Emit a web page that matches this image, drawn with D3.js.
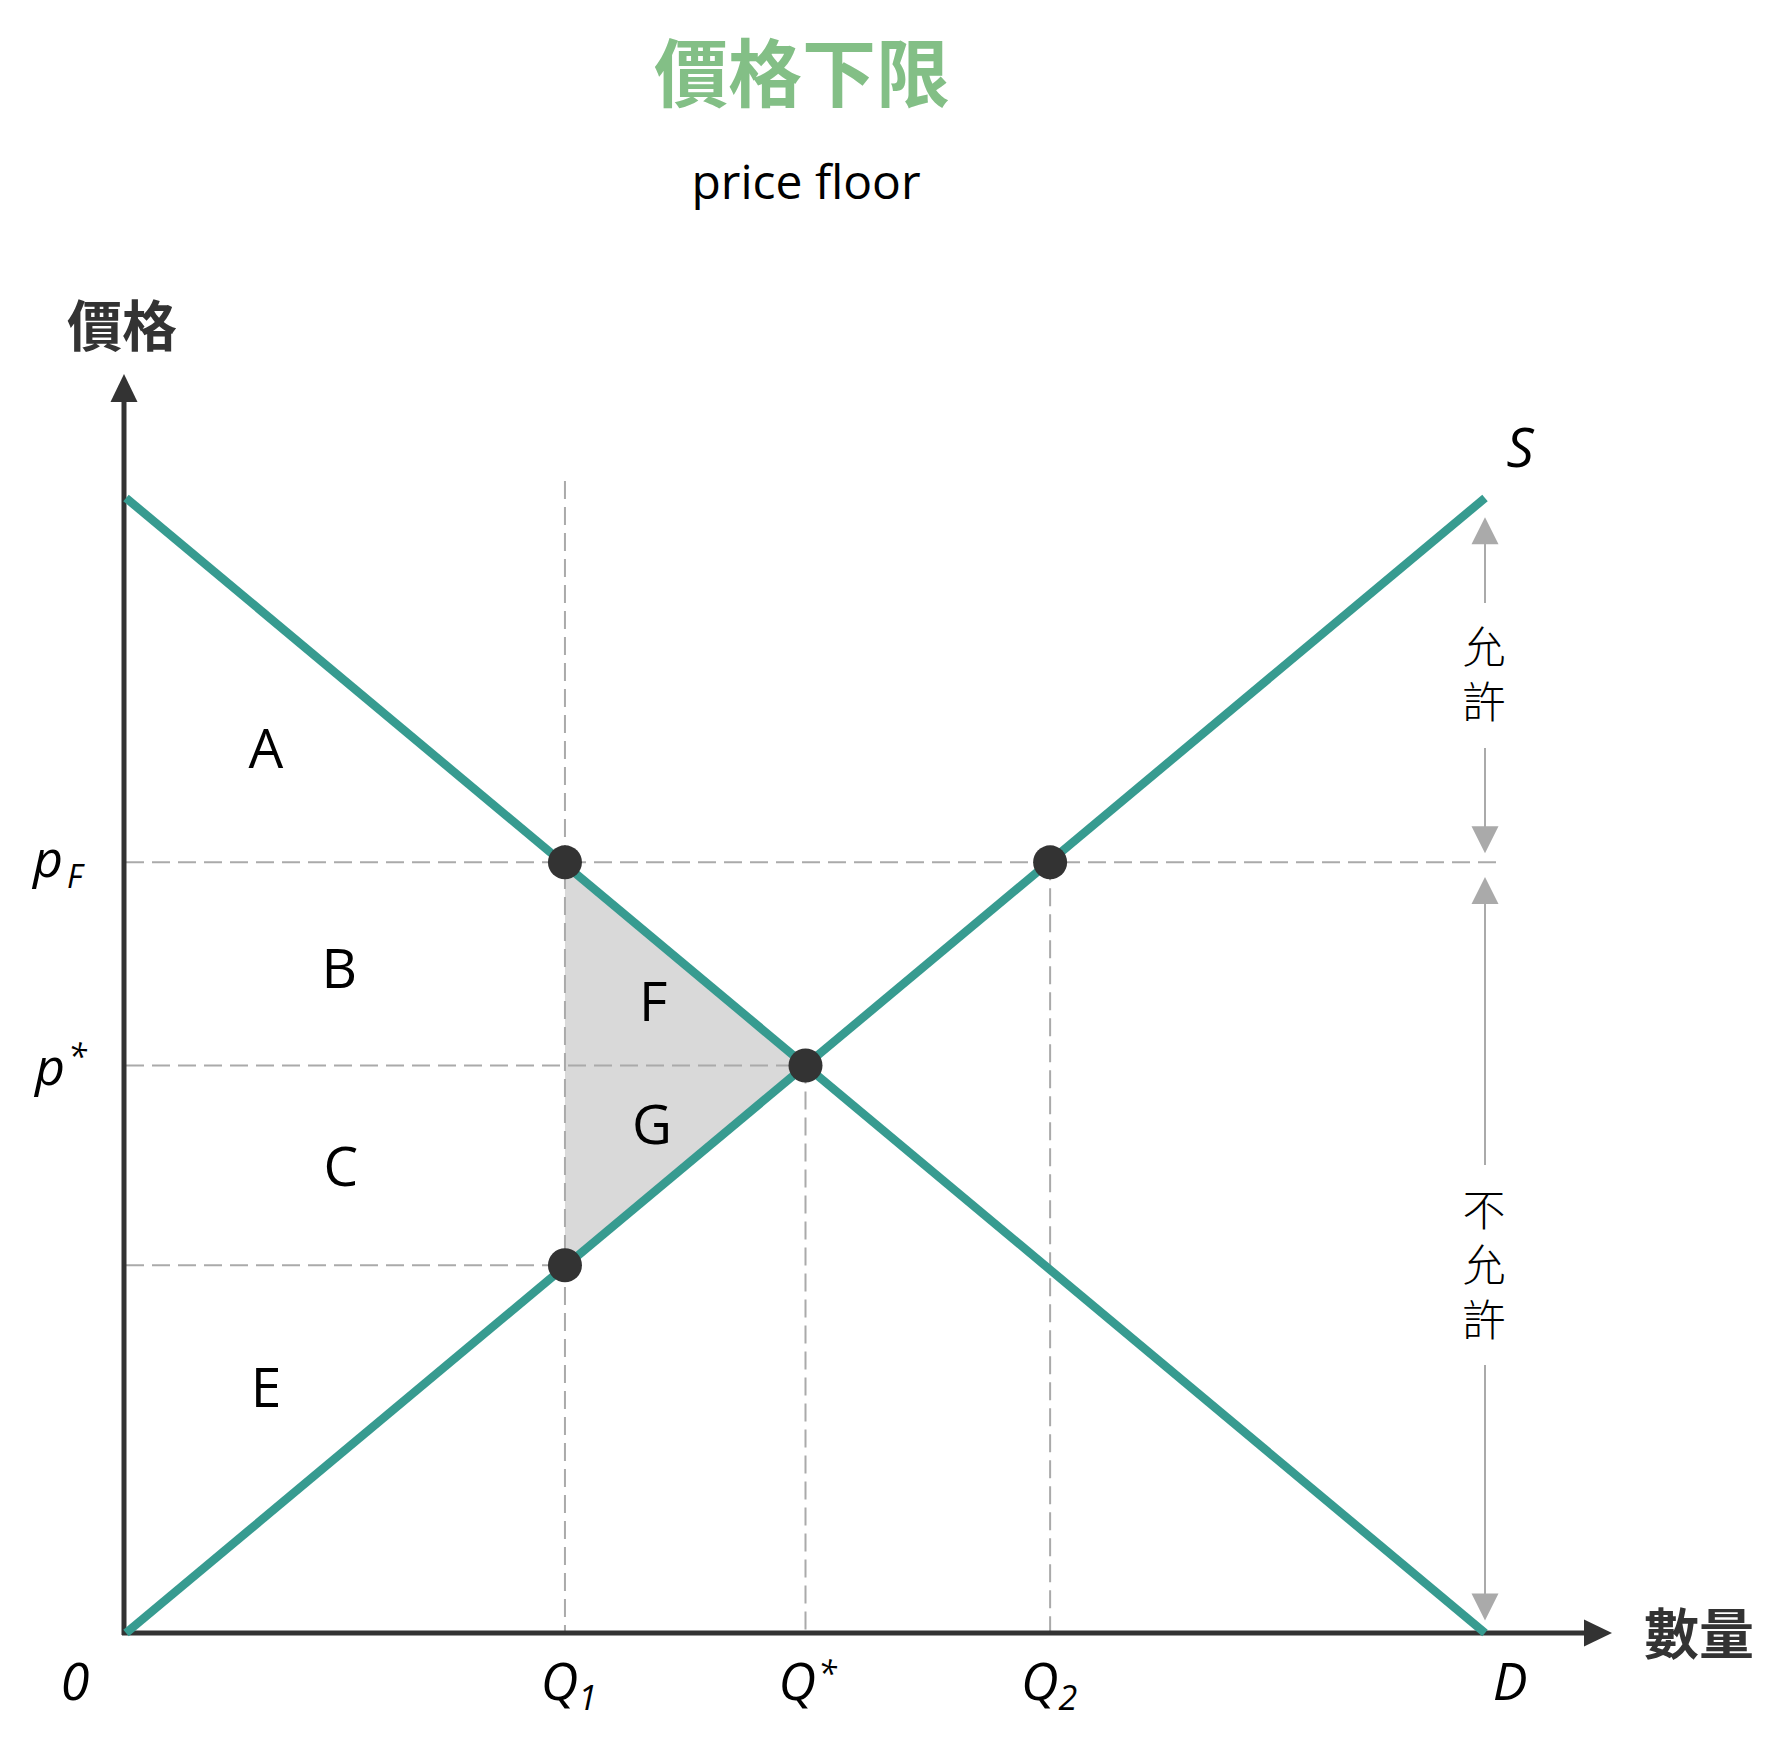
<!DOCTYPE html>
<html>
<head>
<meta charset="utf-8">
<script src="https://cdn.jsdelivr.net/npm/d3@7"></script>
<style>
  body { margin: 0; background: #fff; }
  text { font-family: "Open Sans", "Noto Sans", sans-serif; }
  .cjk { font-family: "Noto Sans CJK TC", "Noto Sans CJK SC", sans-serif; }
</style>
</head>
<body>
<script>
// quantities on the x axis (0 .. D = 100)
var qLabels = ["0", "Q1", "Q*", "Q2", "D"];
var qValues = [0, 32.3, 50, 68, 100];
// prices on the y axis
var pFloor = 67.9, pStar = 50, pLow = 32.4;
// the two straight lines
var demand = [[0, 100], [100, 0]];
var supply = [[0, 0], [100, 100]];
// dots where the floor and the equilibrium sit
var dots = [[32.3, 67.9], [68, 67.9], [50, 50], [32.3, 32.4]];
// deadweight triangle
var loss = [[32.3, 67.9], [50, 50], [32.3, 32.4]];
// surplus areas, placed in data units
var areaNames = ["A", "B", "C", "E", "F", "G"];
var areaAt = [[10.3, 78.1], [15.7, 58.7], [15.8, 41.3], [10.3, 21.8], [38.8, 55.8], [38.7, 45.0]];

var W = 1787, H = 1755;
var teal = "#379b90", ink = "#333", guide = "#aaa";

var x = d3.scaleLinear().domain([0, 100]).range([126, 1485]);
var y = d3.scaleLinear().domain([0, 100]).range([1633, 498]);

var svg = d3.select("body").append("svg")
    .attr("width", W).attr("height", H);

// title
svg.append("text").attr("class", "cjk")
    .attr("x", 802).attr("y", 68)
    .attr("text-anchor", "middle").attr("dominant-baseline", "central")
    .style("font-size", "74px").style("font-weight", 700)
    .style("fill", "#83bf86")
    .text("價格下限");
svg.append("text")
    .attr("x", 806).attr("y", 199)
    .attr("text-anchor", "middle")
    .style("font-size", "48px").style("fill", "#000")
    .text("price floor");

var line = d3.line().x(function(d) { return x(d[0]); }).y(function(d) { return y(d[1]); });

// shaded triangle
svg.append("path").attr("d", line(loss) + "Z").style("fill", "#d9d9d9");

// dashed guides
var dashed = [
  [[32.3, 101.5], [32.3, 0]],
  [[50, 50], [50, 0]],
  [[68, 67.9], [68, 0]],
  [[0, 67.9], [101.3, 67.9]],
  [[0, 50], [50, 50]],
  [[0, 32.4], [32.3, 32.4]]
];
svg.append("g").selectAll("path")
  .data(dashed).enter()
  .append("path")
  .attr("d", line)
  .style("fill", "none")
  .style("stroke", guide)
  .style("stroke-width", 2)
  .style("stroke-dasharray", "18,8");

// axes with arrows
svg.append("line")
    .attr("x1", 124).attr("y1", y(0) + 2).attr("x2", 124).attr("y2", 398)
    .style("stroke", ink).style("stroke-width", 5);
svg.append("path")
    .attr("d", "M124,374 L137.5,402 L110.5,402 Z").style("fill", ink);
svg.append("line")
    .attr("x1", 122).attr("y1", y(0)).attr("x2", 1590).attr("y2", y(0))
    .style("stroke", ink).style("stroke-width", 5);
svg.append("path")
    .attr("d", "M1612," + y(0) + " L1584," + (y(0) - 13.5) + " L1584," + (y(0) + 13.5) + " Z")
    .style("fill", ink);

svg.append("text").attr("class", "cjk")
    .attr("x", 122).attr("y", 322)
    .attr("text-anchor", "middle").attr("dominant-baseline", "central")
    .style("font-size", "55px").style("font-weight", 700).style("fill", ink)
    .text("價格");
svg.append("text").attr("class", "cjk")
    .attr("x", 1699).attr("y", 1630)
    .attr("text-anchor", "middle").attr("dominant-baseline", "central")
    .style("font-size", "55px").style("font-weight", 700).style("fill", ink)
    .text("數量");

// demand and supply
svg.selectAll(".curve")
  .data([demand, supply]).enter()
  .append("path")
  .attr("d", line)
  .style("fill", "none")
  .style("stroke", teal)
  .style("stroke-width", 8.5);

svg.append("text")
    .attr("x", 1520).attr("y", 446)
    .attr("text-anchor", "middle").attr("dominant-baseline", "central")
    .style("font-size", "54px").style("font-style", "italic")
    .text("S");

// dots
svg.selectAll("circle")
  .data(dots).enter()
  .append("circle")
  .attr("cx", function(d) { return x(d[0]); })
  .attr("cy", function(d) { return y(d[1]); })
  .attr("r", 17)
  .style("fill", ink);

// area letters
svg.selectAll(".area")
  .data(areaNames).enter()
  .append("text")
  .attr("x", function(d, i) { return x(areaAt[i][0]); })
  .attr("y", function(d, i) { return y(areaAt[i][1]); })
  .attr("text-anchor", "middle").attr("dominant-baseline", "central")
  .style("font-size", "55px").style("fill", "#000")
  .text(function(d) { return d; });

// quantity labels
var shift = [-51, 4, 2, -1, 25];
qLabels.forEach(function(lab, i) {
  var t = svg.append("text")
      .attr("x", x(qValues[i]) + shift[i]).attr("y", 1700)
      .attr("text-anchor", "middle")
      .style("font-size", "52px").style("font-style", "italic").style("fill", "#000");
  t.append("tspan").text(lab[0]);
  if (lab.length > 1) {
    if (lab[1] == "*")
      t.append("tspan").attr("dx", 2).attr("dy", -14).style("font-size", "34px").text("*");
    else
      t.append("tspan").attr("dy", 10).style("font-size", "34px").text(lab[1]);
  }
});

// price labels
var pf = svg.append("text")
    .attr("x", 33).attr("y", y(pFloor) + 15)
    .style("font-size", "52px").style("font-style", "italic");
pf.append("tspan").text("p");
pf.append("tspan").attr("dx", 4).attr("dy", 11).style("font-size", "32px").text("F");
var ps = svg.append("text")
    .attr("x", 35).attr("y", y(pStar) + 19)
    .style("font-size", "52px").style("font-style", "italic");
ps.append("tspan").text("p");
ps.append("tspan").attr("dx", 3).attr("dy", -16).style("font-size", "34px").text("*");

// allowed / not allowed arrows on the right
var ax = x(100), grey = "#aaa";
var arrows = [
  { top: 98.3, bottom: 68.7, gapTop: 603, gapBottom: 748, words: "允許", midY: 674.5 },
  { top: 66.6, bottom: 1.1, gapTop: 1165, gapBottom: 1365, words: "不允許", midY: 1265 }
];
arrows.forEach(function(a) {
  var yt = y(a.top), yb = y(a.bottom);
  svg.append("line").attr("x1", ax).attr("x2", ax).attr("y1", yt + 20).attr("y2", a.gapTop)
      .style("stroke", grey).style("stroke-width", 2);
  svg.append("line").attr("x1", ax).attr("x2", ax).attr("y1", a.gapBottom).attr("y2", yb - 20)
      .style("stroke", grey).style("stroke-width", 2);
  svg.append("path").attr("d", "M" + ax + "," + yt + " L" + (ax + 13.5) + "," + (yt + 27) + " L" + (ax - 13.5) + "," + (yt + 27) + " Z")
      .style("fill", grey);
  svg.append("path").attr("d", "M" + ax + "," + yb + " L" + (ax + 13.5) + "," + (yb - 27) + " L" + (ax - 13.5) + "," + (yb - 27) + " Z")
      .style("fill", grey);
  // one vertical text per stack
  svg.append("text").attr("class", "cjk")
      .attr("x", ax - 1).attr("y", a.midY + 6)
      .attr("text-anchor", "middle")
      .style("writing-mode", "vertical-rl")
      .style("letter-spacing", "12px")
      .style("font-size", "43px").style("font-weight", 300).style("fill", "#000")
      .text(a.words);
});
</script>
</body>
</html>
